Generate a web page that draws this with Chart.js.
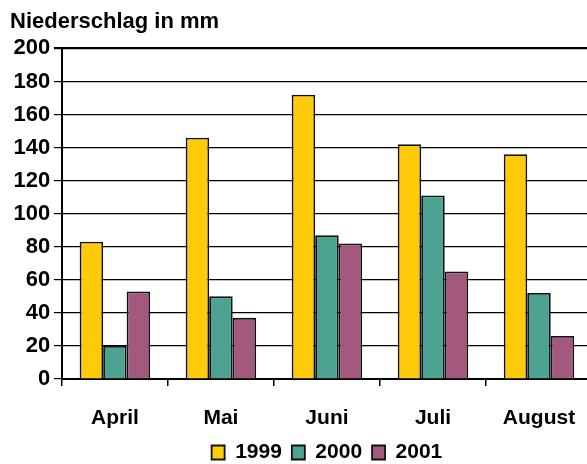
<!DOCTYPE html>
<html>
<head>
<meta charset="utf-8">
<script src="https://cdn.jsdelivr.net/npm/chart.js@4/dist/chart.umd.min.js"></script>
<style>
  html, body { margin: 0; padding: 0; overflow: hidden; background: #fff; }
  #wrap { position: absolute; left: 0; top: 0; width: 595px; height: 464px; }
</style>
</head>
<body>
<div id="wrap"><canvas id="c" width="595" height="464"></canvas></div>
<script>
// Monthly precipitation (mm), April to August, three years
const months = ['April', 'Mai', 'Juni', 'Juli', 'August'];
const years = ['1999', '2000', '2001'];
const rain1999 = [83, 146, 172, 142, 136];
const rain2000 = [20, 50, 87, 111, 52];
const rain2001 = [53, 37, 82, 65, 26];
const yearColors = ['#FFCA08', '#4DA392', '#A3597D'];

const FONT = '"Liberation Sans", Arial, Helvetica, sans-serif';

// centre the legend under the plot area and tuck it right below the month labels
const legendUnderPlot = {
  id: 'legendUnderPlot',
  afterLayout(chart) {
    const lg = chart.legend;
    const a = chart.chartArea;
    if (!lg || !a) return;
    lg.left = a.left;
    lg.right = a.right;
    lg.width = a.right - a.left;
    const lift = 18;
    lg.top -= lift;
    lg.bottom -= lift;
  }
};

const series = [rain1999, rain2000, rain2001];

new Chart(document.getElementById('c'), {
  type: 'bar',
  data: {
    labels: months,
    datasets: series.map((vals, i) => ({
      label: years[i],
      data: vals,
      backgroundColor: yearColors[i],
      borderColor: '#111',
      borderWidth: 1.8,
      borderSkipped: 'bottom',
      barPercentage: 1,
      categoryPercentage: 0.665
    }))
  },
  options: {
    responsive: false,
    animation: false,
    devicePixelRatio: 1,
    layout: { padding: { left: 10, right: 3, top: 0, bottom: -27 } },
    plugins: {
      title: {
        display: true,
        text: 'Niederschlag in mm',
        align: 'start',
        color: '#000',
        font: { family: FONT, size: 22, weight: 'bold' },
        padding: { top: 9, bottom: 13 }
      },
      legend: {
        display: true,
        position: 'bottom',
        labels: {
          color: '#000',
          font: { family: FONT, size: 21, weight: 'bold' },
          boxWidth: 13,
          boxHeight: 14,
          padding: 10
        }
      },
      tooltip: { enabled: false }
    },
    scales: {
      x: {
        grid: {
          display: true,
          drawOnChartArea: false,
          drawTicks: true,
          tickLength: 7,
          color: '#000',
          lineWidth: 1.5
        },
        border: { display: true, color: '#000', width: 2 },
        ticks: {
          color: '#000',
          font: { family: FONT, size: 21, weight: 'bold' },
          padding: 19.4,
          maxRotation: 0
        }
      },
      y: {
        min: 0,
        max: 200,
        grid: {
          color: '#000',
          lineWidth: (ctx) => (ctx.tick && ctx.tick.value === 200 ? 2.2 : 1.2),
          drawTicks: true,
          tickLength: 8
        },
        border: { display: true, color: '#000', width: 2 },
        ticks: {
          stepSize: 20,
          color: '#000',
          font: { family: FONT, size: 22, weight: 'bold' },
          padding: 3.6
        }
      }
    }
  },
  plugins: [legendUnderPlot]
});
</script>
</body>
</html>
